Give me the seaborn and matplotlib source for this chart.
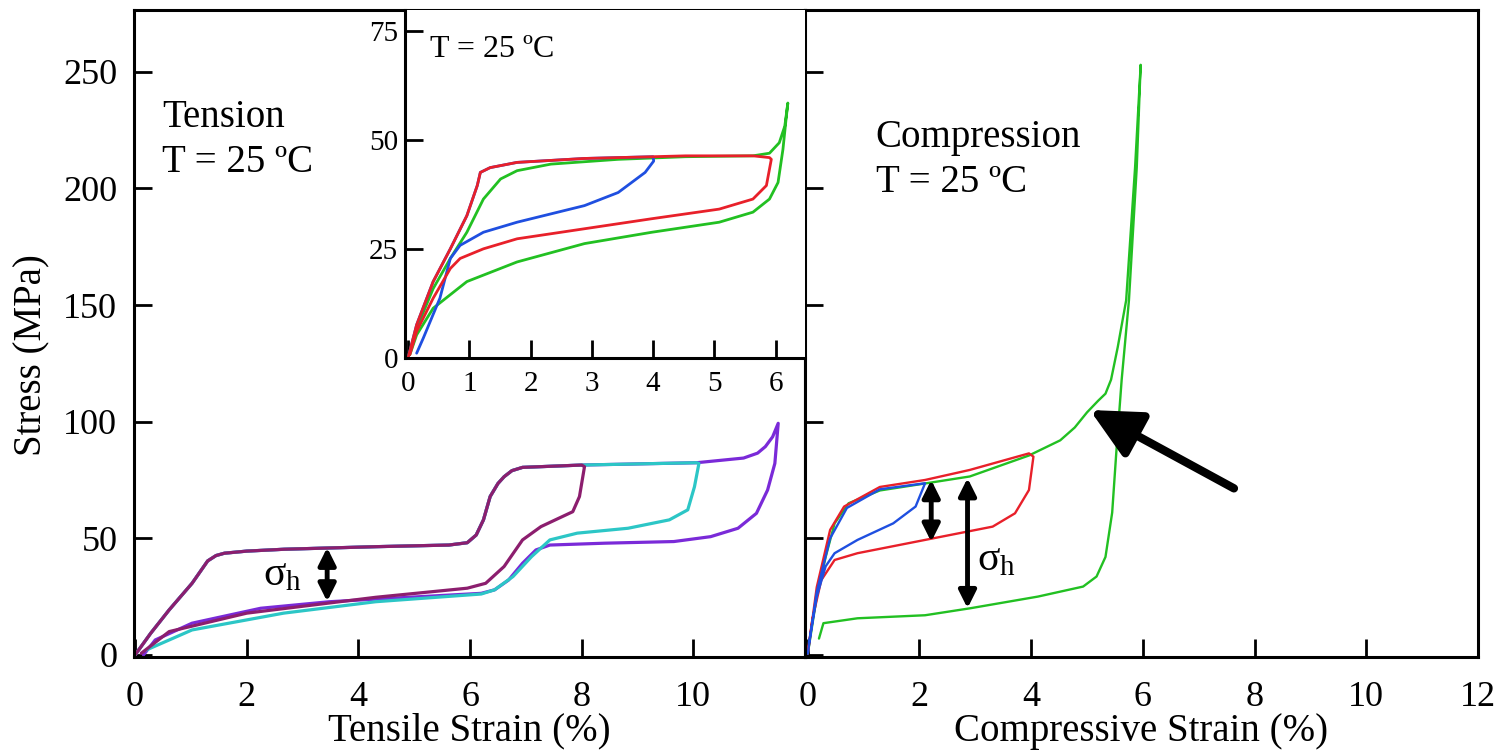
import numpy as np
import pandas as pd
import matplotlib
matplotlib.use('Agg')
import matplotlib.pyplot as plt
import seaborn as sns

# =============================================================================
# Data (strain in %, stress in MPa)
# =============================================================================

# Tension, main panel: shared loading path
tens_load_strain = [0, 0.28, 0.61, 1.02, 1.30, 1.45, 1.6, 2.0, 2.67, 4.31, 5.62, 5.95, 6.11, 6.24,
                    6.36, 6.5, 6.61, 6.75, 6.94, 8.0, 10.06, 10.9, 11.15, 11.29, 11.42, 11.52]
tens_load_stress = [0, 9.3, 19.3, 30.7, 40.3, 42.6, 43.6, 44.5, 45.3, 46.4, 47.1, 48.1, 51.4, 57.9,
                    67.9, 73.5, 76.4, 79.0, 80.4, 81.4, 82.4, 84.4, 86.5, 89.3, 93.5, 99.3]

# Tension unloading paths
purple_unload_strain = [11.46, 11.33, 11.13, 10.8, 10.31, 9.65, 8.42, 7.43, 7.18, 6.94,
                        6.69, 6.44, 6.2, 5.13, 3.48, 2.25, 1.02, 0.36, 0.15]
purple_unload_stress = [82.1, 70.7, 60.7, 54.3, 50.7, 48.6, 47.9, 47.1, 45, 39.3,
                        32.1, 27.9, 26.4, 25, 22.8, 20, 13.6, 6.4, 0]
cyan_unload_strain = [10.1, 10.02, 9.9, 9.57, 8.83, 7.92, 7.43, 7.1, 6.77, 6.44, 6.2,
                      4.31, 2.66, 1.02, 0.2]
cyan_unload_stress = [82.1, 72.1, 62.2, 57.9, 54.3, 52.2, 49.3, 42.1, 33.6, 27.9, 26.1,
                      22.8, 17.9, 10.7, 2.1]
maroon_unload_strain = [8.05, 7.96, 7.84, 7.59, 7.27, 6.94, 6.61, 6.28, 5.95, 4.31, 2.0,
                        0.61, 0.11]
maroon_unload_stress = [80.7, 67.9, 61.4, 58.6, 55, 49.3, 37.9, 30.7, 28.6, 24.7, 17.9,
                        10, 0.7]
tens_peak_strain = {'purple': 11.6, 'cyan': 10.06, 'maroon': 8.0}

# Inset (tension, small strains)
inset_load_strain = [0, 0.14, 0.41, 0.69, 0.96, 1.13, 1.18, 1.34, 1.78, 2.88, 4.0, 4.53, 5.63, 5.9]
inset_load_stress = [0, 7.6, 17.5, 25, 32.6, 39.5, 42.5, 43.6, 44.8, 45.7, 46.1, 46.3, 46.3, 45.9]
red_unload_strain = [5.93, 5.85, 5.63, 5.08, 3.98, 2.88, 1.78, 1.23, 0.85, 0.69, 0.41, 0.14, 0.03]
red_unload_stress = [45.5, 39.5, 36.4, 34.1, 31.9, 29.6, 27.3, 25, 22.8, 20.5, 13.7, 6.1, 0.8]
blue_unload_strain = [4.01, 3.87, 3.43, 2.88, 1.78, 1.23, 0.85, 0.69, 0.52, 0.25, 0.14]
blue_unload_stress = [45.1, 42.5, 37.9, 34.9, 31.1, 28.8, 25.8, 22.8, 13.7, 4.6, 1.1]
green_in_strain = [0, 0.14, 0.41, 0.69, 0.96, 1.23, 1.51, 1.78, 2.33, 3.43, 4.53, 5.63, 5.9,
                   6.06, 6.15, 6.2, 6.17, 6.12, 6.04, 5.9, 5.63, 5.08, 3.98, 2.88, 1.78,
                   0.96, 0.41, 0.14, 0.03]
green_in_stress = [0, 6.8, 15.9, 22.8, 28.8, 36.4, 41, 42.9, 44.4, 45.5, 46.1, 46.3, 46.9,
                   49.3, 53.1, 58.4, 54.6, 47.8, 40.2, 36.4, 33.4, 31.1, 28.8, 26.2, 22,
                   17.5, 11.4, 5.3, 0.8]

# Compression panel
comp_green_strain = [0, 0.16, 0.32, 0.48, 0.73, 1.29, 2.1, 2.9, 3.96, 4.52, 4.78, 5.0, 5.2, 5.33, 5.43,
                     5.55, 5.7, 5.86, 5.96, 5.89, 5.75, 5.62, 5.53, 5.45, 5.33, 5.17, 4.93, 4.12,
                     2.91, 2.1, 0.89, 0.28, 0.2]
comp_green_stress = [0.5, 25, 42, 56.4, 65, 70.5, 73.5, 76.5, 85.5, 92, 97.5, 104, 109, 112, 118,
                     132, 152, 209, 253, 209, 152, 118, 89, 61, 42, 33.6, 29.3, 25,
                     20, 17, 15.7, 13.6, 7]
comp_red_strain = [0, 0.16, 0.4, 0.65, 1.29, 2.1, 2.9, 3.96, 4.04, 3.96, 3.71, 3.31, 2.1,
                   0.89, 0.48, 0.24, 0.08, 0]
comp_red_stress = [0.5, 29, 53.6, 63.6, 72, 75, 79.3, 86.4, 85, 70.7, 60.7, 55, 49.3,
                   43.6, 40.7, 32, 15, 1]
comp_blue_strain = [0, 0.16, 0.4, 0.7, 1.29, 2.1, 1.93, 1.53, 0.89, 0.48, 0.32, 0.16, 0.02]
comp_blue_stress = [0.5, 27, 50, 63, 71, 73.6, 63.6, 56.4, 49.3, 43.6, 38, 25, 5]

stress_ticks = [0, 50, 100, 150, 200, 250]
strain_ticks = [0, 2, 4, 6, 8, 10, 12]
inset_strain_ticks = [0, 1, 2, 3, 4, 5, 6]
inset_stress_ticks = [0, 25, 50, 75]

# =============================================================================
# Build tidy frames
# =============================================================================

def loop(name, load_x, load_y, peak, un_x, un_y):
    lx = [x for x in load_x if x <= peak]
    ly = load_y[:len(lx)]
    return pd.DataFrame({'strain': lx + un_x, 'stress': ly + un_y, 'curve': name})

tension_df = pd.concat([
    loop('purple', tens_load_strain, tens_load_stress, tens_peak_strain['purple'],
         purple_unload_strain, purple_unload_stress),
    loop('cyan', tens_load_strain, tens_load_stress, tens_peak_strain['cyan'],
         cyan_unload_strain, cyan_unload_stress),
    loop('maroon', tens_load_strain, tens_load_stress, tens_peak_strain['maroon'],
         maroon_unload_strain, maroon_unload_stress),
], ignore_index=True)

inset_df = pd.concat([
    pd.DataFrame({'strain': green_in_strain, 'stress': green_in_stress, 'curve': 'green'}),
    loop('blue', inset_load_strain, inset_load_stress, 4.0, blue_unload_strain, blue_unload_stress),
    loop('red', inset_load_strain, inset_load_stress, 6.0, red_unload_strain, red_unload_stress),
], ignore_index=True)

comp_df = pd.concat([
    pd.DataFrame({'strain': comp_green_strain, 'stress': comp_green_stress, 'curve': 'green'}),
    pd.DataFrame({'strain': comp_red_strain, 'stress': comp_red_stress, 'curve': 'red'}),
    pd.DataFrame({'strain': comp_blue_strain, 'stress': comp_blue_stress, 'curve': 'blue'}),
], ignore_index=True)

tens_colors = {'purple': '#7a2ad8', 'cyan': '#2cc6c6', 'maroon': '#8c1e6e'}
rgb_colors = {'red': '#e8202a', 'blue': '#1f4fe0', 'green': '#22c022'}

# =============================================================================
# Plot
# =============================================================================

sns.set_style('ticks')
plt.rcParams['font.family'] = ['Liberation Serif', 'DejaVu Serif']
plt.rcParams['mathtext.fontset'] = 'stix'
plt.rcParams['text.color'] = 'black'
plt.rcParams['axes.labelcolor'] = 'black'
plt.rcParams['xtick.color'] = 'black'
plt.rcParams['ytick.color'] = 'black'

fig = plt.figure(figsize=(14.97, 7.5), dpi=100)
W, H = 1497, 750
ax1 = fig.add_axes([134 / W, 1 - 657 / H, (805 - 134) / W, (657 - 10) / H])
ax2 = fig.add_axes([805 / W, 1 - 657 / H, (1478 - 805) / W, (657 - 10) / H])
ax_in = fig.add_axes([405 / W, 1 - 358 / H, (805 - 405) / W, (358 - 10) / H])

sns.lineplot(data=tension_df, x='strain', y='stress', hue='curve', palette=tens_colors,
             hue_order=['purple', 'cyan', 'maroon'], sort=False, estimator=None,
             legend=False, linewidth=2.3, ax=ax1)
sns.lineplot(data=inset_df, x='strain', y='stress', hue='curve', palette=rgb_colors,
             hue_order=['green', 'blue', 'red'], sort=False, estimator=None,
             legend=False, linewidth=2.0, ax=ax_in)
sns.lineplot(data=comp_df, x='strain', y='stress', hue='curve', palette=rgb_colors,
             hue_order=['green', 'red', 'blue'], sort=False, estimator=None,
             legend=False, linewidth=1.7, ax=ax2)

for ax in (ax1, ax2):
    ax.set_xlim(-0.02, 12.0)
    ax.set_ylim(-0.9, 276.5)
    ax.set_yticks(stress_ticks)
    ax.tick_params(direction='in', length=13, width=2, labelsize=26, pad=12,
                   color='black', labelcolor='black')
    ax.tick_params(axis='x', pad=17)
    for s in ax.spines.values():
        s.set_linewidth(2.2)
        s.set_color('black')

ax2.set_xlim(-0.05, 12.0)
ax1.set_xticks(strain_ticks[:-1])
ax2.set_xticks(strain_ticks)
ax2.set_yticklabels([])
ax2.tick_params(axis='y', left=True, labelleft=False)

ax1.set_xlabel('Tensile Strain (%)', fontsize=28)
ax2.set_xlabel('Compressive Strain (%)', fontsize=28)
ax1.set_ylabel('Stress (MPa)', fontsize=28)
ax1.xaxis.set_label_coords(0.5, -0.086)
ax2.xaxis.set_label_coords(0.5, -0.086)
ax1.yaxis.set_label_coords(-0.124, 0.467)

# inset
ax_in.set_facecolor('white')
ax_in.set_xlim(-0.05, 6.48)
ax_in.set_ylim(0, 79.7)
ax_in.set_xticks(inset_strain_ticks)
ax_in.set_yticks(inset_stress_ticks)
ax_in.tick_params(direction='in', length=13, width=2, labelsize=21, pad=5,
                  color='black', labelcolor='black')
ax_in.tick_params(axis='x', pad=9)
ax_in.set_xlabel('')
ax_in.set_ylabel('')
ax_in.spines['top'].set_visible(False)
ax_in.spines['right'].set_visible(False)
for s in ('left', 'bottom'):
    ax_in.spines[s].set_linewidth(2.2)
    ax_in.spines[s].set_color('black')

# annotations
ax1.text(0.042, 0.819, 'Tension', transform=ax1.transAxes, fontsize=28, va='baseline')
ax1.text(0.042, 0.750, 'T = 25 ºC', transform=ax1.transAxes, fontsize=28, va='baseline')
ax2.text(0.105, 0.789, 'Compression', transform=ax2.transAxes, fontsize=28, va='baseline')
ax2.text(0.105, 0.718, 'T = 25 ºC', transform=ax2.transAxes, fontsize=28, va='baseline')
ax_in.text(0.0625, 0.866, 'T = 25 ºC', transform=ax_in.transAxes, fontsize=23, va='baseline')

dbl = dict(arrowstyle='<|-|>', color='black', lw=3.5, mutation_scale=26, shrinkA=0, shrinkB=0)
ax1.annotate('', xy=(3.44, 46.0), xytext=(3.44, 22.9), arrowprops=dbl)
ax1.text(2.29, 30, r'$\mathregular{\sigma_h}$', fontsize=30, va='baseline', ha='left')
ax2.annotate('', xy=(2.21, 75.0), xytext=(2.21, 48.5), arrowprops=dbl)
ax2.annotate('', xy=(2.86, 75.8), xytext=(2.86, 20.0), arrowprops=dbl)
ax2.text(3.03, 36.4, r'$\mathregular{\sigma_h}$', fontsize=30, va='baseline', ha='left')

ax2.annotate('', xy=(5.05, 105), xytext=(7.63, 71.4),
             arrowprops=dict(arrowstyle='-|>,head_length=0.85,head_width=0.42',
                             color='black', lw=6, mutation_scale=36,
                             shrinkA=0, shrinkB=0))

plt.savefig('out.png', dpi=100)
